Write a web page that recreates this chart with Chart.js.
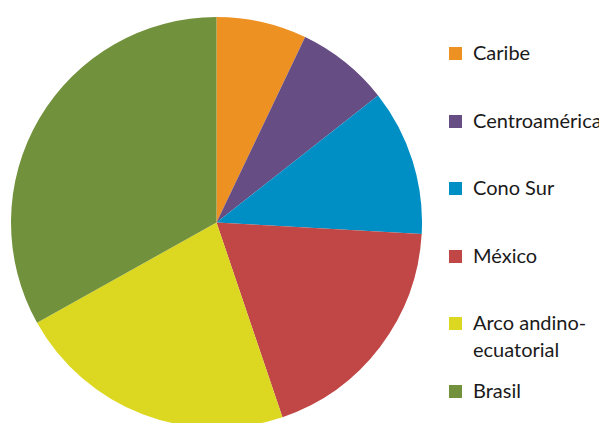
<!DOCTYPE html>
<html>
<head>
<meta charset="utf-8">
<script src="https://cdn.jsdelivr.net/npm/chart.js@4"></script>
<style>
  html, body { margin: 0; padding: 0; background: #fff; overflow: hidden; width: 599px; height: 423px; }
  #wrap { position: absolute; left: 0; top: 0; width: 422px; height: 428px; }
  #legend { position: absolute; left: 449px; top: 0; font-family: Lato, sans-serif; font-size: 20px; color: #1a1a1a; }
  .item { position: absolute; left: 0; display: flex; align-items: baseline; line-height: 27px; }
  .sw { width: 13px; height: 13px; flex: none; margin-right: 11px; }
  .txt { width: 125px; white-space: normal; }
</style>
</head>
<body>
<div id="wrap"><canvas id="pie"></canvas></div>
<div id="legend"></div>
<script>
// === data ===
const labels = ['Caribe', 'Centroamérica', 'Cono Sur', 'México', 'Arco andino-ecuatorial', 'Brasil'];
const shares = [7.1, 7.3, 11.5, 18.9, 22.1, 33.1];
const colors = ['#EE9123', '#664D84', '#008FC5', '#C04745', '#DCD821', '#72913D'];

Chart.defaults.animation = false;

new Chart(document.getElementById('pie'), {
  type: 'pie',
  data: {
    labels,
    datasets: [{ data: shares, backgroundColor: colors, borderWidth: 0 }]
  },
  options: {
    responsive: true,
    maintainAspectRatio: false,
    layout: { padding: { left: 11, top: 17, right: 0, bottom: 0 } },
    plugins: { legend: { display: false }, tooltip: { enabled: false } }
  }
});

// === legend (html, evenly spaced rows) ===
(function() {
  const host = document.getElementById('legend');
  const rowStep = 67.6;
  labels.forEach((name, i) => {
    const row = document.createElement('div');
    row.className = 'item';
    row.style.top = (39 + i * rowStep) + 'px';
    row.innerHTML = `<span class="sw" style="background:${colors[i]}"></span><span class="txt">${name}</span>`;
    host.appendChild(row);
  });
})();
</script>
</body>
</html>
